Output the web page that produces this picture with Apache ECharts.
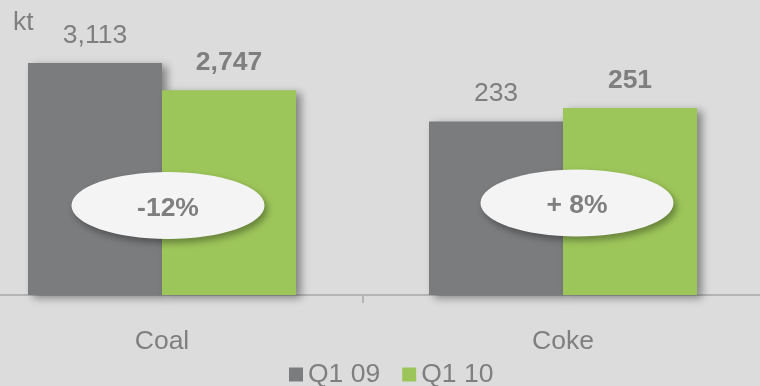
<!DOCTYPE html>
<html>
<head>
<meta charset="utf-8">
<script src="https://cdn.jsdelivr.net/npm/echarts@6/dist/echarts.min.js"></script>
<style>
  html, body { margin: 0; padding: 0; background: #dcdcdc; }
  #chart { width: 760px; height: 386px; }
</style>
</head>
<body>
<div id="chart"></div>
<script>
// Production volumes, kt
const categories = ['Coal', 'Coke'];
const seriesNames = ['Q1 09', 'Q1 10'];
const q109 = [3113, 233];
const q110 = [2747, 251];
const changeLabels = ['-12%', '+ 8%'];
const unitLabel = 'kt';

// Coke is plotted on its own scale (one tenth of the coal scale)
const axisMax = [3960, 396];

const GREY = '#7b7c7e';
const GREEN = '#9dc65a';
const TEXT = '#7f7f7f';
const FONT = 'Liberation Sans, Arial, sans-serif';
const FS = 26.5;

const fmt = v => Number(v).toLocaleString('en-US');

// Two side-by-side plots sharing one baseline; they run slightly past the canvas edges
const grids = [
  { left: -38.5, width: 401, top: 0, height: 295, outerBoundsMode: 'none', containLabel: false },
  { left: 362.5, width: 401, top: 0, height: 295, outerBoundsMode: 'none', containLabel: false }
];

const xAxes = categories.map((c, i) => ({
  type: 'category',
  gridIndex: i,
  data: [c],
  axisLine: { lineStyle: { color: '#b4b4b4', width: 2 } },
  axisTick: { show: true, length: 8, lineStyle: { color: '#b4b4b4', width: 2 } },
  axisLabel: { color: TEXT, fontSize: FS, fontFamily: FONT, margin: 33 }
}));

const yAxes = categories.map((c, i) => ({
  type: 'value',
  gridIndex: i,
  min: 0,
  max: axisMax[i],
  show: false,
  splitLine: { show: false }
}));

const barShadow = {
  shadowBlur: 8,
  shadowOffsetX: 5,
  shadowOffsetY: 3,
  shadowColor: 'rgba(0,0,0,0.4)'
};

const series = [];
categories.forEach((c, i) => {
  series.push({
    name: seriesNames[0],
    type: 'bar',
    xAxisIndex: i,
    yAxisIndex: i,
    data: [q109[i]],
    barWidth: 134,
    barGap: '0%',
    itemStyle: Object.assign({ color: GREY }, barShadow),
    label: {
      show: true, position: 'top', distance: 14,
      color: TEXT, fontSize: FS, fontFamily: FONT,
      formatter: p => fmt(p.value)
    }
  });
  series.push({
    name: seriesNames[1],
    type: 'bar',
    xAxisIndex: i,
    yAxisIndex: i,
    data: [q110[i]],
    barWidth: 134,
    barGap: '0%',
    itemStyle: Object.assign({ color: GREEN }, barShadow),
    label: {
      show: true, position: 'top', distance: 14,
      color: TEXT, fontSize: FS, fontFamily: FONT, fontWeight: 'bold',
      formatter: p => fmt(p.value)
    }
  });
});

const chart = echarts.init(document.getElementById('chart'), null, { renderer: 'canvas' });

chart.setOption({
  backgroundColor: '#dcdcdc',
  animation: false,
  grid: grids,
  xAxis: xAxes,
  yAxis: yAxes,
  legend: {
    data: seriesNames.map(n => ({ name: n, icon: 'rect' })),
    left: 289,
    top: 361,
    padding: 0,
    itemWidth: 14,
    itemHeight: 14,
    itemGap: 22,
    textStyle: { color: TEXT, fontSize: FS, fontFamily: FONT }
  },
  series: series
});

// Change badges: white ellipses centred a little right of each category
const badgeOffsetX = [6, 14];
const badgeY = [205.5, 203];
const badges = [];
categories.forEach((c, i) => {
  const cx = chart.convertToPixel({ xAxisIndex: i }, c) + badgeOffsetX[i];
  const cy = badgeY[i];
  badges.push({
    type: 'ellipse',
    z: 10,
    shape: { cx: cx, cy: cy, rx: 96.5, ry: 33.5 },
    style: {
      fill: '#f4f4f4',
      shadowBlur: 7,
      shadowOffsetX: 3,
      shadowOffsetY: 4,
      shadowColor: 'rgba(0,0,0,0.35)'
    }
  });
  badges.push({
    type: 'text',
    z: 11,
    x: cx,
    y: cy + 3,
    style: {
      text: changeLabels[i],
      fill: TEXT,
      font: 'bold ' + FS + 'px ' + FONT,
      align: 'center',
      verticalAlign: 'middle'
    }
  });
});
badges.push({
  type: 'text',
  x: 13,
  y: 23,
  style: {
    text: unitLabel,
    fill: TEXT,
    font: FS + 'px ' + FONT,
    align: 'left',
    verticalAlign: 'middle'
  }
});

chart.setOption({ graphic: badges });
</script>
</body>
</html>
